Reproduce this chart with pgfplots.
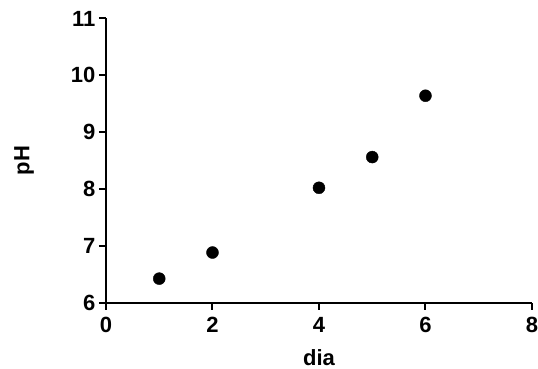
\documentclass[border=0pt]{standalone}
\usepackage{fontspec}
\setmainfont{Liberation Sans}
\usepackage{pgfplots}
\pgfplotsset{compat=1.18}
\begin{document}
\begin{tikzpicture}
\useasboundingbox (-106pt,-66.5pt) rectangle (432pt,302.5pt);
\begin{axis}[
  at={(0,0)}, anchor=south west,
  scale only axis,
  width=426pt, height=284pt,
  xmin=0, xmax=8, ymin=6, ymax=11,
  xtick={0,2,4,6,8}, ytick={6,7,8,9,10,11},
  axis lines*=left,
  axis line style={-, line width=2pt, black},
  tick style={line width=2pt, black},
  tick align=outside,
  major tick length=7pt,
  /pgf/number format/assume math mode=true,
  tick label style={font=\fontsize{22}{22}\selectfont\bfseries},
  xticklabel style={yshift=-4pt},
  label style={font=\fontsize{22}{22}\selectfont\bfseries},
  xlabel={dia},
  ylabel={pH},
  xlabel style={at={(axis description cs:0.5,0)}, anchor=base, yshift=-63pt},
  ylabel style={at={(axis description cs:0,0.5)}, anchor=center, yshift=82pt},
  clip=false,
]
\addplot[only marks, mark=*, mark size=6pt, black] coordinates {
  (1,6.42) (2,6.88) (4,8.02) (5,8.56) (6,9.64)
};
\end{axis}
\end{tikzpicture}
\end{document}
